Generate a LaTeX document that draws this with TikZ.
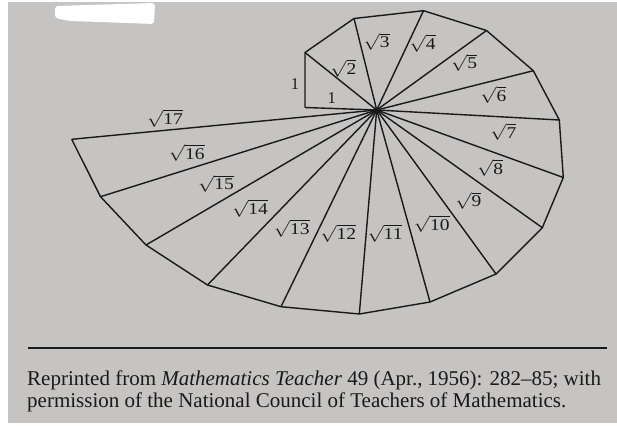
\RequirePackage{fix-cm}
\documentclass[tikz,border=0pt]{standalone}
\usepackage{fontspec}
\setmainfont{Liberation Serif}
\definecolor{paper}{RGB}{198,196,194}
\definecolor{ink}{RGB}{25,25,25}
\newcommand{\rt}[1]{\scalebox{1.18}[1]{$\sqrt{\hbox{#1}}$}}
\tikzset{
  lab/.style={font=\fontsize{16.5}{18}\selectfont, inner sep=0pt, text=ink},
  edge/.style={draw=ink, line width=1.4pt, line join=round},
  captext/.style={font=\fontsize{21}{23}\selectfont, inner sep=0pt, text=ink, anchor=base west}
}
\begin{document}
\begin{tikzpicture}[x=1pt,y=-1pt]
\useasboundingbox (0,0) rectangle (617,425);
\fill[white] (0,0) rectangle (617,425);
\fill[paper] (8,2) rectangle (617,423);
\fill[white, rounded corners=3pt] (55,6) -- (155,3) -- (154,24) -- (128,23) -- (70,21) -- (55,18) -- cycle;
% vertices
\coordinate (O) at (376.7,110);
\coordinate (p1) at (305,107.5);
\coordinate (p2) at (305,52.5);
\coordinate (p3) at (354,18.5);
\coordinate (p4) at (423.5,10.7);
\coordinate (p5) at (486.5,30.5);
\coordinate (p6) at (533.3,70.7);
\coordinate (p7) at (559.3,120);
\coordinate (p8) at (563.3,177.5);
\coordinate (p9) at (542.3,227.7);
\coordinate (p10) at (496,274);
\coordinate (p11) at (430,302);
\coordinate (p12) at (359.3,314);
\coordinate (p13) at (281,306.7);
\coordinate (p14) at (207.5,285);
\coordinate (p15) at (146,245);
\coordinate (p16) at (100.5,196.7);
\coordinate (p17) at (71.7,139.3);
% outer path
\draw[edge] (p1) -- (p2) -- (p3) -- (p4) -- (p5) -- (p6) -- (p7) -- (p8) -- (p9)
  -- (p10) -- (p11) -- (p12) -- (p13) -- (p14) -- (p15) -- (p16) -- (p17);
% spokes
\foreach \i in {1,...,17} { \draw[edge] (O) -- (p\i); }
\fill[ink] (O) circle (2.5pt);
% labels
\node[lab] (l1v) at (295,84) {1};
\node[lab] (l1h) at (331.7,98.3) {1};
\node[lab] (l2) at (343.3,68.3) {\rt{2}};
\node[lab] (l3) at (376.7,41.7) {\rt{3}};
\node[lab] (l4) at (422.7,43.3) {\rt{4}};
\node[lab] (l5) at (464,62.5) {\rt{5}};
\node[lab] (l6) at (493.3,95) {\rt{6}};
\node[lab] (l7) at (503.3,131.7) {\rt{7}};
\node[lab] (l8) at (490,168) {\rt{8}};
\node[lab] (l9) at (468.3,200.7) {\rt{9}};
\node[lab] (l10) at (431.7,224) {\rt{10}};
\node[lab] (l11) at (385,233.3) {\rt{11}};
\node[lab] (l12) at (338.3,233.3) {\rt{12}};
\node[lab] (l13) at (291.7,228.3) {\rt{13}};
\node[lab] (l14) at (250,208.3) {\rt{14}};
\node[lab] (l15) at (216,183.5) {\rt{15}};
\node[lab] (l16) at (186.7,152.8) {\rt{16}};
\node[lab] (l17) at (165,118.3) {\rt{17}};
% rule and caption
\coordinate (r1) at (28,348);
\coordinate (r2) at (607,348);
\draw[draw=ink, line width=1.3pt] (r1) -- (r2);
\node[captext] (c1) at (27,385) {Reprinted from \textit{Mathematics Teacher} 49 (Apr., 1956): 282–85; with};
\node[captext] (c2) at (27,407) {permission of the National Council of Teachers of Mathematics.};
\end{tikzpicture}
\end{document}
